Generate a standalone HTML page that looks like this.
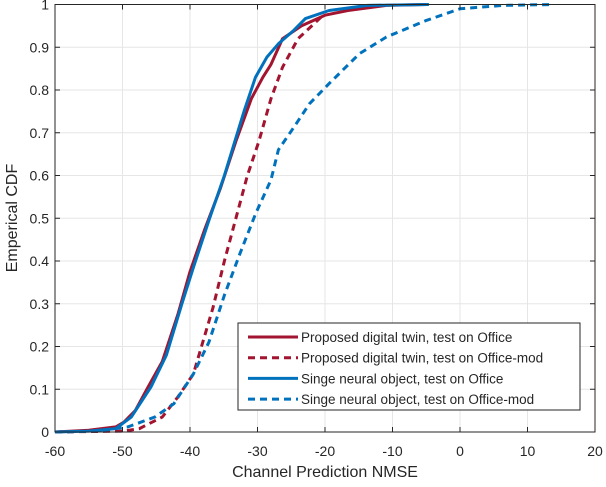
<!DOCTYPE html>
<html><head><meta charset="utf-8"><style>
body{margin:0;background:#fff;}
svg text{font-family:"Liberation Sans",sans-serif;fill:#262626;}
</style></head><body>
<svg id="chart" width="606" height="482" viewBox="0 0 606 482">
<g id="grid"></g>
<g id="series"></g>
<rect x="55" y="4.5" width="540" height="427.5" fill="none" stroke="#262626" stroke-width="1"/>
<g id="ticks"></g>
<text x="325" y="477" font-size="16" text-anchor="middle">Channel Prediction NMSE</text>
<text transform="translate(17,218) rotate(-90)" font-size="16" text-anchor="middle">Emperical CDF</text>
<g id="legend">
<rect x="238" y="323" width="342" height="87" fill="#fff" stroke="#262626" stroke-width="1"/>
</g>
</svg>
<script>
const xTicks=[-60,-50,-40,-30,-20,-10,0,10,20];
const yTicks=[0,0.1,0.2,0.3,0.4,0.5,0.6,0.7,0.8,0.9,1];
const seriesNames=["Proposed digital twin, test on Office","Proposed digital twin, test on Office-mod","Singe neural object, test on Office","Singe neural object, test on Office-mod"];
const redSolidX=[-60,-55,-51,-49.8,-48.1,-46.4,-44.1,-41.8,-40,-37.8,-35.5,-33.2,-30.9,-29.2,-28,-26.3,-23.5,-20,-16.6,-10.9,-5];
const redSolidY=[0,0.004,0.012,0.023,0.05,0.1,0.165,0.275,0.375,0.475,0.57,0.68,0.78,0.83,0.86,0.92,0.95,0.975,0.986,0.998,1];
const redDashX=[-60,-49.8,-47.5,-44.1,-41.8,-39.5,-38.3,-36.6,-34.9,-33.2,-31.5,-29.8,-28,-26.3,-24,-22.3,-20.6];
const redDashY=[0,0.002,0.008,0.035,0.082,0.136,0.2,0.29,0.4,0.5,0.6,0.68,0.78,0.853,0.92,0.945,0.97];
const blueSolidX=[-60,-55,-51,-48.7,-45.8,-43.5,-41.2,-39.5,-37.2,-34.9,-32,-30.3,-28.6,-26.9,-24.6,-22.9,-19.4,-13.7,-4.6];
const blueSolidY=[0,0.002,0.008,0.035,0.105,0.18,0.3,0.385,0.495,0.6,0.75,0.83,0.877,0.908,0.94,0.967,0.986,0.998,1];
const blueDashX=[-60,-53.8,-49.2,-45.2,-42.4,-39.5,-37.2,-34.9,-32.6,-30.3,-28,-26.9,-24.6,-22.3,-19.4,-14.9,-10.9,-5.1,0,6.3,13.8];
const blueDashY=[0,0.002,0.012,0.035,0.066,0.136,0.21,0.32,0.417,0.51,0.59,0.66,0.713,0.768,0.815,0.885,0.924,0.962,0.99,0.998,1];

const NS="http://www.w3.org/2000/svg";
const L=55,R=595,T=4.5,B=432;
const sx=v=>L+(v+60)/80*(R-L);
const sy=v=>B-v*(B-T);
function mk(tag,attrs,parent){const e=document.createElementNS(NS,tag);for(const k in attrs)e.setAttribute(k,attrs[k]);parent.appendChild(e);return e;}
const grid=document.getElementById('grid'),ticks=document.getElementById('ticks');
xTicks.forEach(v=>{
  const g=mk('line',{x1:sx(v),x2:sx(v),y1:T,y2:B,stroke:'#e6e6e6','stroke-width':1},grid);
  
  
  const t=mk('line',{x1:sx(v),x2:sx(v),y1:B,y2:B-5,stroke:'#262626'},ticks);
  
  
  const t2=mk('line',{x1:sx(v),x2:sx(v),y1:T,y2:T+5,stroke:'#262626'},ticks);
  
  
  const lb=mk('text',{x:sx(v),y:456,'font-size':14,'text-anchor':'middle'},ticks);
  lb.textContent=v;
  
  
});
yTicks.forEach(v=>{
  const g=mk('line',{x1:L,x2:R,y1:sy(v),y2:sy(v),stroke:'#e6e6e6','stroke-width':1},grid);
  
  
  const t=mk('line',{x1:L,x2:L+5,y1:sy(v),y2:sy(v),stroke:'#262626'},ticks);
  
  
  const t2=mk('line',{x1:R,x2:R-5,y1:sy(v),y2:sy(v),stroke:'#262626'},ticks);
  
  
  const lb=mk('text',{x:49,y:sy(v)+5,'font-size':14,'text-anchor':'end'},ticks);
  lb.textContent=v;
  
  
});
const red='#a2142f',blue='#0072bd';
const defs=[
 [redSolidX,redSolidY,red,'','red-solid-curve'],
 [redDashX,redDashY,red,'7,5','red-dashed-curve'],
 [blueSolidX,blueSolidY,blue,'','blue-solid-curve'],
 [blueDashX,blueDashY,blue,'7,5','blue-dashed-curve']];
const sg=document.getElementById('series');
const order=[1,3,0,2];
order.forEach(i=>{
  const [xs,ys,c,d,n]=defs[i];
  const pts=xs.map((x,j)=>sx(x).toFixed(1)+','+sy(ys[j]).toFixed(1)).join(' ');
  const p=mk('polyline',{points:pts,fill:'none',stroke:c,'stroke-width':3,'stroke-dasharray':d,'stroke-linejoin':'round'},sg);
  
  
});
const lg=document.getElementById('legend');
defs.forEach((s,i)=>{
  const y=337+i*20.7;
  const l=mk('line',{x1:248,x2:298,y1:y,y2:y,stroke:s[2],'stroke-width':3,'stroke-dasharray':s[3]},lg);
  
  
  const t=mk('text',{x:301,y:y+5,'font-size':13.5},lg);
  t.textContent=seriesNames[i];
  
  
});
</script>
</body></html>
